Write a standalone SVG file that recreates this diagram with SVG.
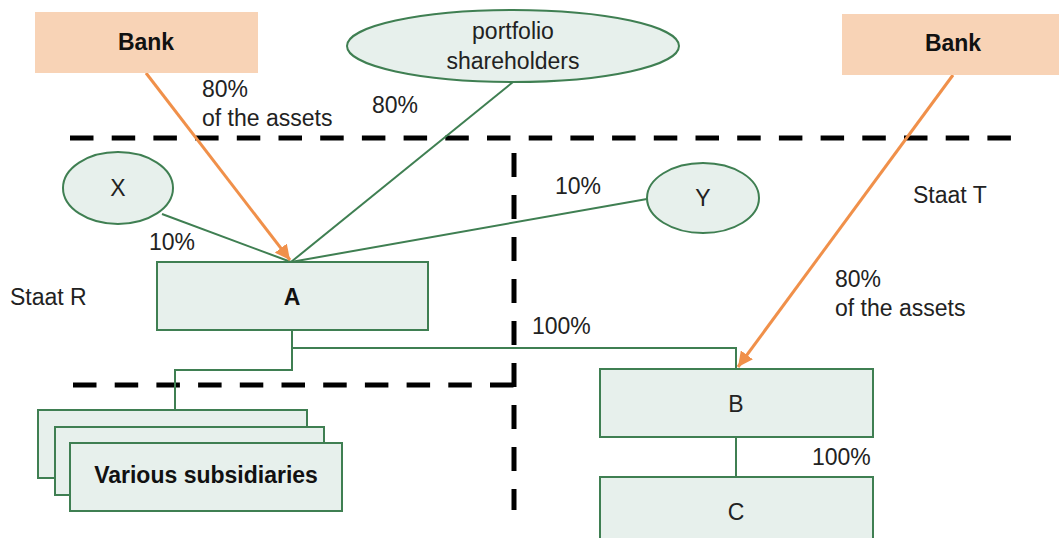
<svg xmlns="http://www.w3.org/2000/svg" width="1059" height="538" viewBox="0 0 1059 538">
<style>
.bank{fill:#f8d3b6;stroke:none}
.box{fill:#e7f0ec;stroke:#3f7f52;stroke-width:2}
.t{font-family:"Liberation Sans",Arial,sans-serif;font-size:23px;fill:#222}
.b{font-weight:bold;fill:#111}
.c{text-anchor:middle}
.g{stroke:#3f7f52;stroke-width:2;fill:none}
.o{stroke:#f0904a;stroke-width:3;fill:none}
.d{stroke:#000;stroke-width:5;stroke-dasharray:23.5 18.2;fill:none}
.dv{stroke:#000;stroke-width:5;stroke-dasharray:24 18;fill:none}
</style>
<defs>
<marker id="ah" viewBox="0 0 10 10" refX="10" refY="5" markerWidth="5" markerHeight="5" orient="auto" markerUnits="strokeWidth">
<path d="M0,0 L10,5 L0,10 z" fill="#f0904a"/>
</marker>
</defs>
<g id="borders">
<line class="d" x1="70" y1="138" x2="1012" y2="138"/>
<line class="dv" x1="514" y1="153" x2="514" y2="510"/>
<line class="d" x1="73" y1="385" x2="514" y2="385"/>
</g>
<g id="connectors">
<line class="g" x1="513" y1="82" x2="291" y2="262"/>
<line class="g" x1="162" y1="214" x2="291" y2="262"/>
<line class="g" x1="647" y1="199" x2="291" y2="262"/>
<polyline class="g" points="292,330 292,348 736,348 736,369"/>
<polyline class="g" points="292,330 292,370 175,370 175,410"/>
<line class="g" x1="736" y1="437" x2="736" y2="477"/>
<line class="o" x1="146" y1="73" x2="290" y2="260" marker-end="url(#ah)"/>
<line class="o" x1="953" y1="75" x2="738" y2="367" marker-end="url(#ah)"/>
</g>
<g id="bank-left">
<rect class="bank" x="35" y="12" width="223" height="61"/>
<text class="t b c" x="146" y="50">Bank</text>
</g>
<g id="bank-right">
<rect class="bank" x="842" y="14" width="217" height="61"/>
<text class="t b c" x="953" y="51">Bank</text>
</g>
<g id="portfolio">
<ellipse class="box" cx="513" cy="46" rx="166" ry="36"/>
<text class="t c" x="513" y="39">portfolio</text>
<text class="t c" x="513" y="69">shareholders</text>
</g>
<g id="X">
<ellipse class="box" cx="118" cy="188" rx="55" ry="36"/>
<text class="t c" x="118" y="196">X</text>
</g>
<g id="Y">
<ellipse class="box" cx="703" cy="198" rx="56" ry="35"/>
<text class="t c" x="703" y="206">Y</text>
</g>
<g id="A">
<rect class="box" x="157" y="262" width="271" height="68"/>
<text class="t b c" x="292" y="305">A</text>
</g>
<g id="B">
<rect class="box" x="600" y="369" width="273" height="68"/>
<text class="t c" x="736" y="412">B</text>
</g>
<g id="C">
<rect class="box" x="600" y="477" width="273" height="70"/>
<text class="t c" x="736" y="520">C</text>
</g>
<g id="subsidiaries">
<rect class="box" x="38" y="410" width="269" height="68"/>
<rect class="box" x="55" y="427" width="269" height="68"/>
<rect class="box" x="70" y="443" width="272" height="68"/>
<text class="t b c" x="206" y="483">Various subsidiaries</text>
</g>
<g id="labels">
<text class="t" x="202" y="97">80%</text>
<text class="t" x="202" y="126">of the assets</text>
<text class="t" x="372" y="113">80%</text>
<text class="t" x="149" y="250">10%</text>
<text class="t" x="555" y="194">10%</text>
<text class="t" x="10" y="305">Staat R</text>
<text class="t" x="913" y="203">Staat T</text>
<text class="t" x="835" y="287">80%</text>
<text class="t" x="835" y="316">of the assets</text>
<text class="t" x="532" y="334">100%</text>
<text class="t" x="812" y="465">100%</text>
</g>
</svg>
